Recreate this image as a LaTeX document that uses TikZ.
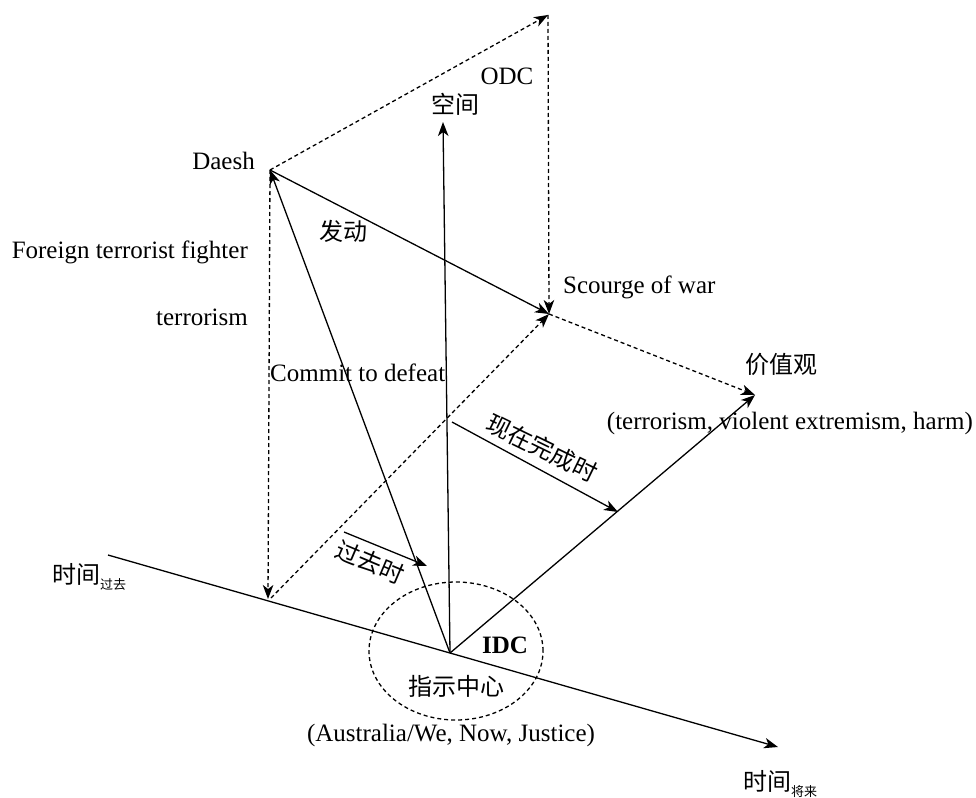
\documentclass[tikz,border=0pt]{standalone}
\usepackage{fontspec}
\setmainfont{Liberation Serif}
\newfontfamily\cjk{Noto Sans CJK SC}
\usetikzlibrary{arrows.meta,shapes.geometric}
\begin{document}
\begin{tikzpicture}[x=1pt,y=-1pt,
  ln/.style={line width=1.3pt},
  arr/.style={ln,-{Stealth[length=14pt,width=10.5pt,inset=4pt]}},
  darr/.style={arr,dash pattern=on 4pt off 3pt},
  lbl/.style={inner sep=0pt,font=\fontsize{25}{29}\selectfont},
  clbl/.style={inner sep=0pt,font=\fontsize{24}{28}\selectfont\cjk},
]
\useasboundingbox (0,0) rectangle (976,797);
% key points
\coordinate (O) at (450,653);
\coordinate (D) at (270,170);
\coordinate (T) at (548,15);
\coordinate (S) at (549,314);
\coordinate (V) at (755,395);
\coordinate (Sp) at (443,122);
\coordinate (P) at (268,599);
\coordinate (P2) at (271,598);
\coordinate (Ts) at (108,555);
\coordinate (Te) at (778,747);
\coordinate (pa) at (344,532);
\coordinate (pb) at (427,566);
\coordinate (ca) at (452,422);
\coordinate (cb) at (618,512);
% ellipse
\node (idc) [draw,ln,dash pattern=on 4pt off 3pt,ellipse,minimum width=174pt,minimum height=138pt,inner sep=0pt] at (456,651) {};
% axes
\draw[arr] (Ts) -- (Te);
\draw[arr] (O) -- (Sp);
\draw[arr] (O) -- (V);
\draw[arr] (O) -- (D);
\draw[arr] (D) -- (S);
\draw[darr] (D) -- (T);
\draw[darr] (T) -- (S);
\draw[darr] (D) -- (P);
\draw[darr] (P2) -- (S);
\draw[darr] (S) -- (V);
\draw[arr] (pa) -- (pb);
\draw[arr] (ca) -- (cb);
% labels
\node[lbl,anchor=east] (daesh) at (255,161) {Daesh};
\node[lbl] (odc) at (507,76) {ODC};
\node[clbl] (space) at (455,104) {空间};
\node[clbl] (fadong) at (343,231) {发动};
\node[lbl,anchor=east] (ftf) at (248,252) {Foreign terrorist fighter};
\node[lbl,anchor=east] (terr) at (248,317) {terrorism};
\node[lbl,anchor=west] (sow) at (563,287) {Scourge of war};
\node[lbl,anchor=west] (ctd) at (270,373) {Commit to defeat};
\node[clbl] (val) at (781,364) {价值观};
\node[lbl,anchor=east] (valt) at (973,423) {(terrorism, violent extremism, harm)};
\node[clbl,rotate=-26] (pres) at (542,448) {现在完成时};
\node[clbl,rotate=-23] (past) at (370,562) {过去时};
\node[clbl,anchor=west] (tpast) at (52,577) {时间{\fontsize{13}{13}\selectfont\raisebox{-6pt}{过去}}};
\node[lbl,font=\fontsize{25}{29}\selectfont\bfseries] (idct) at (505,645) {IDC};
\node[clbl] (zsz) at (456,686) {指示中心};
\node[lbl] (aus) at (451,735) {(Australia/We, Now, Justice)};
\node[clbl,anchor=west] (tfut) at (743,784) {时间{\fontsize{13}{13}\selectfont\raisebox{-6pt}{将来}}};
\end{tikzpicture}
\end{document}
